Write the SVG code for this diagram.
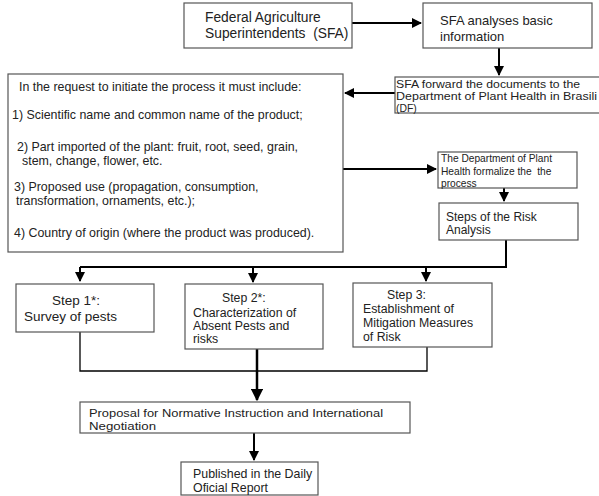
<svg xmlns="http://www.w3.org/2000/svg" width="599" height="496" viewBox="0 0 599 496">
<style>
.box{fill:#fff;stroke:#555;stroke-width:1.2}
.t{font-family:"Liberation Sans",Arial,sans-serif;fill:#222}
.c{fill:none;stroke:#000;stroke-width:2}
</style>
<defs>
<marker id="ah" viewBox="0 0 10 10" refX="9" refY="5" markerWidth="5" markerHeight="5" orient="auto" markerUnits="strokeWidth">
<path d="M0,0 L10,5 L0,10 z" fill="#000"/>
</marker>
</defs>
<rect width="599" height="496" fill="#fff"/>
<g id="connectors">
<path class="c" d="M352,23 H421" marker-end="url(#ah)"/>
<path class="c" d="M499,48 V75" marker-end="url(#ah)"/>
<path class="c" d="M395,93 H345" marker-end="url(#ah)"/>
<path class="c" d="M343,169 H436" marker-end="url(#ah)"/>
<path class="c" d="M504,188 V201" marker-end="url(#ah)"/>
<path class="c" d="M506,240 V267 H80"/>
<path class="c" d="M80,267 V281" marker-end="url(#ah)"/>
<path class="c" d="M253,267 V282" marker-end="url(#ah)"/>
<path class="c" d="M426,267 V281" marker-end="url(#ah)"/>
<path class="c" style="stroke-width:1.3" d="M80,332 V371 H427 V347"/>
<path class="c" style="stroke-width:2.5" d="M257,349 V400" marker-end="url(#ah)"/>
<path class="c" d="M254,433 V460" marker-end="url(#ah)"/>
</g>
<g id="n1">
<rect class="box" x="184" y="3" width="168" height="45"/>
<text class="t" font-size="13.8" x="205" y="22">Federal Agriculture</text>
<text class="t" font-size="13.8" x="205" y="38" xml:space="preserve">Superintendents  (SFA)</text>
</g>
<g id="n2">
<rect class="box" x="423" y="3" width="169" height="45"/>
<text class="t" font-size="13" x="440" y="25">SFA analyses basic</text>
<text class="t" font-size="13" x="440" y="41">information</text>
</g>
<g id="n3">
<rect class="box" x="395" y="77" width="210" height="36"/>
<text class="t" font-size="10.4" x="396" y="88" textLength="184" lengthAdjust="spacingAndGlyphs">SFA forward the documents to the</text>
<text class="t" font-size="10.4" x="396" y="100" textLength="201" lengthAdjust="spacingAndGlyphs">Department of Plant Health in Brasili</text>
<text class="t" font-size="10.4" x="396" y="112">(DF)</text>
</g>
<g id="n4">
<rect class="box" x="8" y="74" width="335" height="178"/>
<text class="t" font-size="12.4" x="19" y="91">In the request to initiate the process it must include:</text>
<text class="t" font-size="12.4" x="12" y="119">1) Scientific name and common name of the product;</text>
<text class="t" font-size="12.4" x="17" y="151">2) Part imported of the plant: fruit, root, seed, grain,</text>
<text class="t" font-size="12.4" x="22" y="165">stem, change, flower, etc.</text>
<text class="t" font-size="12.4" x="14" y="191">3) Proposed use (propagation, consumption,</text>
<text class="t" font-size="12.4" x="16" y="205">transformation, ornaments, etc.);</text>
<text class="t" font-size="12.4" x="14" y="237">4) Country of origin (where the product was produced).</text>
</g>
<g id="n5">
<rect class="box" x="438" y="152" width="139" height="36"/>
<text class="t" font-size="10.2" x="441" y="162">The Department of Plant</text>
<text class="t" font-size="10.2" x="441" y="175" xml:space="preserve">Health formalize the  the</text>
<text class="t" font-size="10.2" x="441" y="187">process</text>
</g>
<g id="n6">
<rect class="box" x="439" y="203" width="139" height="37"/>
<text class="t" font-size="12" x="446" y="221">Steps of the Risk</text>
<text class="t" font-size="12" x="446" y="234">Analysis</text>
</g>
<g id="n7">
<rect class="box" x="16" y="284" width="138" height="48"/>
<text class="t" font-size="13.5" x="52" y="305">Step 1*:</text>
<text class="t" font-size="13.5" x="24" y="321">Survey of pests</text>
</g>
<g id="n8">
<rect class="box" x="185" y="284" width="138" height="65"/>
<text class="t" font-size="12.3" x="222" y="302">Step 2*:</text>
<text class="t" font-size="12.3" x="193" y="317">Characterization of</text>
<text class="t" font-size="12.3" x="193" y="330">Absent Pests and</text>
<text class="t" font-size="12.3" x="193" y="343">risks</text>
</g>
<g id="n9">
<rect class="box" x="353" y="283" width="139" height="64"/>
<text class="t" font-size="12.3" x="387" y="299">Step 3:</text>
<text class="t" font-size="12.3" x="363" y="313">Establishment of</text>
<text class="t" font-size="12.3" x="363" y="327">Mitigation Measures</text>
<text class="t" font-size="12.3" x="363" y="341">of Risk</text>
</g>
<g id="n10">
<rect class="box" x="80" y="402" width="330" height="31"/>
<text class="t" font-size="11.6" x="89" y="417" textLength="294" lengthAdjust="spacingAndGlyphs">Proposal for Normative Instruction and International</text>
<text class="t" font-size="11.6" x="89" y="430" textLength="67" lengthAdjust="spacingAndGlyphs">Negotiation</text>
</g>
<g id="n11">
<rect class="box" x="181" y="462" width="137" height="33"/>
<text class="t" font-size="12.4" x="193" y="478">Published in the Daily</text>
<text class="t" font-size="12.4" x="193" y="492">Oficial Report</text>
</g>
</svg>
